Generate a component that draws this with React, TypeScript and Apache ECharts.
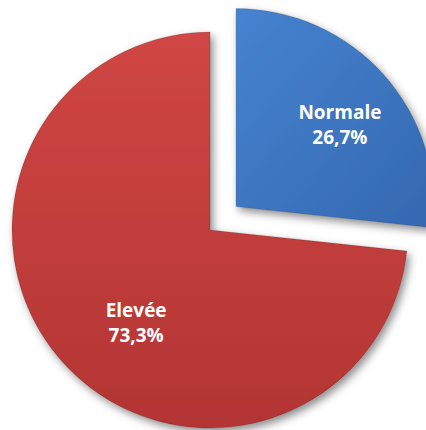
import React, { useEffect, useRef } from "react";
import * as echarts from "echarts";

const categories = ["Normale", "Elevée"];
const values = [26.7, 73.3];
const percentLabels = ["26,7%", "73,3%"];

export default function App() {
  const ref = useRef<HTMLDivElement>(null);
  useEffect(() => {
    if (!ref.current) return;
    const chart = echarts.init(ref.current, undefined, { renderer: "svg" });
    const colors = [
      new echarts.graphic.LinearGradient(0, 0, 1, 1, [
        { offset: 0, color: "#4683D0" },
        { offset: 1, color: "#3468B0" },
      ]),
      new echarts.graphic.LinearGradient(0, 0, 0, 1, [
        { offset: 0, color: "#D04644" },
        { offset: 1, color: "#B33533" },
      ]),
    ];
    const shifts = [
      [28, -14],
      [2, 24],
    ];
    chart.setOption({
      animation: false,
      backgroundColor: "#ffffff",
      series: [
        {
          type: "pie",
          center: [210, 230],
          radius: [0, 198],
          startAngle: 90,
          clockwise: true,
          selectedMode: "single",
          selectedOffset: 35,
          avoidLabelOverlap: false,
          label: {
            show: true,
            position: "inside",
            color: "#ffffff",
            fontFamily: "Open Sans",
            fontWeight: "bold",
            fontSize: 19,
            lineHeight: 25,
          },
          labelLine: { show: false },
          labelLayout: (params: any) => ({
            dx: shifts[params.dataIndex][0],
            dy: shifts[params.dataIndex][1],
          }),
          itemStyle: {
            borderColor: "rgba(0,0,0,0.15)",
            borderWidth: 1,
            shadowColor: "rgba(0,0,0,0.45)",
            shadowBlur: 8,
            shadowOffsetX: 3,
            shadowOffsetY: 4,
          },
          emphasis: { disabled: true },
          data: categories.map((name, i) => ({
            name,
            value: values[i],
            selected: i === 0,
            itemStyle: { color: colors[i] },
            label: {
              formatter: `${name}\n${percentLabels[i]}`,
            },
          })),
        },
      ],
    });
    return () => chart.dispose();
  }, []);
  return (
    <div
      ref={ref}
      style={{ position: "fixed", left: 0, top: 0, width: 426, height: 430 }}
    />
  );
}
